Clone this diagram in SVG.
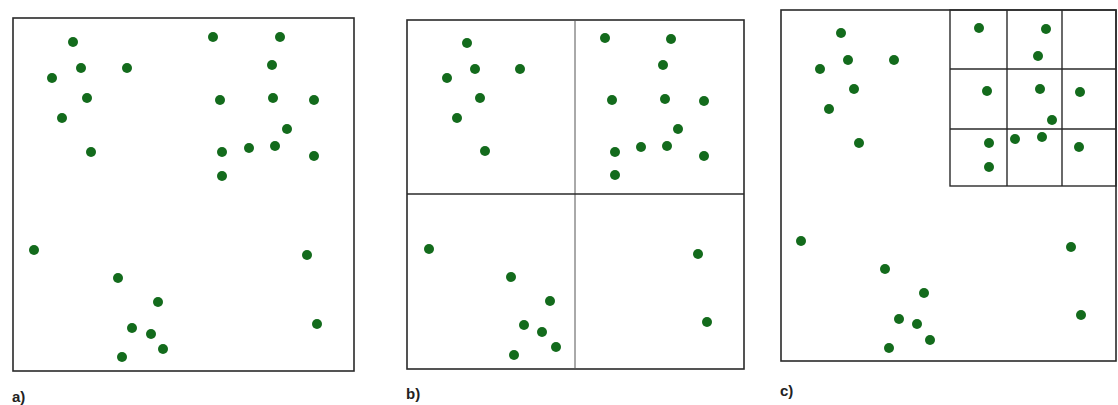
<svg xmlns="http://www.w3.org/2000/svg" width="1118" height="405" viewBox="0 0 1118 405">
<style>
.frame{fill:none;stroke:#2a2a2a;stroke-width:1.6}
.grid{fill:none;stroke:#2a2a2a;stroke-width:1.4}
.thin{fill:none;stroke:#555;stroke-width:1}
.d{fill:#136b1c}
.lbl{font-family:"Liberation Sans",Arial,sans-serif;font-size:15px;font-weight:bold;fill:#222}
</style>
<rect width="1118" height="405" fill="#fff"/>
<g id="panel-a">
<rect class="frame" x="13" y="18" width="341" height="353"/>
<g>
<circle class="d" cx="73" cy="42" r="5"/>
<circle class="d" cx="81" cy="68" r="5"/>
<circle class="d" cx="52" cy="78" r="5"/>
<circle class="d" cx="127" cy="68" r="5"/>
<circle class="d" cx="87" cy="98" r="5"/>
<circle class="d" cx="62" cy="118" r="5"/>
<circle class="d" cx="91" cy="152" r="5"/>
<circle class="d" cx="213" cy="37" r="5"/>
<circle class="d" cx="280" cy="37" r="5"/>
<circle class="d" cx="272" cy="65" r="5"/>
<circle class="d" cx="220" cy="100" r="5"/>
<circle class="d" cx="273" cy="98" r="5"/>
<circle class="d" cx="314" cy="100" r="5"/>
<circle class="d" cx="287" cy="129" r="5"/>
<circle class="d" cx="222" cy="152" r="5"/>
<circle class="d" cx="249" cy="148" r="5"/>
<circle class="d" cx="275" cy="146" r="5"/>
<circle class="d" cx="314" cy="156" r="5"/>
<circle class="d" cx="222" cy="176" r="5"/>
<circle class="d" cx="34" cy="250" r="5"/>
<circle class="d" cx="307" cy="255" r="5"/>
<circle class="d" cx="118" cy="278" r="5"/>
<circle class="d" cx="158" cy="302" r="5"/>
<circle class="d" cx="132" cy="328" r="5"/>
<circle class="d" cx="151" cy="334" r="5"/>
<circle class="d" cx="163" cy="349" r="5"/>
<circle class="d" cx="122" cy="357" r="5"/>
<circle class="d" cx="317" cy="324" r="5"/>
</g>
<text class="lbl" x="12" y="402">a)</text>
</g>
<g id="panel-b">
<rect class="frame" x="407" y="20" width="337" height="349"/>
<line class="thin" x1="575" y1="20" x2="575" y2="369"/>
<line class="grid" x1="407" y1="194" x2="744" y2="194"/>
<g>
<circle class="d" cx="467" cy="43" r="5"/>
<circle class="d" cx="475" cy="69" r="5"/>
<circle class="d" cx="447" cy="78" r="5"/>
<circle class="d" cx="520" cy="69" r="5"/>
<circle class="d" cx="480" cy="98" r="5"/>
<circle class="d" cx="457" cy="118" r="5"/>
<circle class="d" cx="485" cy="151" r="5"/>
<circle class="d" cx="605" cy="38" r="5"/>
<circle class="d" cx="671" cy="39" r="5"/>
<circle class="d" cx="663" cy="65" r="5"/>
<circle class="d" cx="612" cy="100" r="5"/>
<circle class="d" cx="665" cy="99" r="5"/>
<circle class="d" cx="704" cy="101" r="5"/>
<circle class="d" cx="678" cy="129" r="5"/>
<circle class="d" cx="615" cy="152" r="5"/>
<circle class="d" cx="641" cy="147" r="5"/>
<circle class="d" cx="667" cy="146" r="5"/>
<circle class="d" cx="704" cy="156" r="5"/>
<circle class="d" cx="615" cy="175" r="5"/>
<circle class="d" cx="429" cy="249" r="5"/>
<circle class="d" cx="698" cy="254" r="5"/>
<circle class="d" cx="511" cy="277" r="5"/>
<circle class="d" cx="550" cy="301" r="5"/>
<circle class="d" cx="524" cy="325" r="5"/>
<circle class="d" cx="542" cy="332" r="5"/>
<circle class="d" cx="556" cy="347" r="5"/>
<circle class="d" cx="514" cy="355" r="5"/>
<circle class="d" cx="707" cy="322" r="5"/>
</g>
<text class="lbl" x="406" y="399">b)</text>
</g>
<g id="panel-c">
<rect class="frame" x="781" y="10" width="335" height="351"/>
<rect class="grid" x="950" y="10" width="166" height="176"/>
<line class="grid" x1="1007" y1="10" x2="1007" y2="186"/>
<line class="grid" x1="1062" y1="10" x2="1062" y2="186"/>
<line class="grid" x1="950" y1="69" x2="1116" y2="69"/>
<line class="grid" x1="950" y1="129" x2="1116" y2="129"/>
<g>
<circle class="d" cx="841" cy="33" r="5"/>
<circle class="d" cx="848" cy="60" r="5"/>
<circle class="d" cx="820" cy="69" r="5"/>
<circle class="d" cx="894" cy="60" r="5"/>
<circle class="d" cx="854" cy="89" r="5"/>
<circle class="d" cx="829" cy="109" r="5"/>
<circle class="d" cx="859" cy="143" r="5"/>
<circle class="d" cx="979" cy="28" r="5"/>
<circle class="d" cx="1046" cy="29" r="5"/>
<circle class="d" cx="1038" cy="56" r="5"/>
<circle class="d" cx="987" cy="91" r="5"/>
<circle class="d" cx="1040" cy="89" r="5"/>
<circle class="d" cx="1080" cy="92" r="5"/>
<circle class="d" cx="1052" cy="120" r="5"/>
<circle class="d" cx="989" cy="143" r="5"/>
<circle class="d" cx="1015" cy="139" r="5"/>
<circle class="d" cx="1042" cy="137" r="5"/>
<circle class="d" cx="1079" cy="147" r="5"/>
<circle class="d" cx="989" cy="167" r="5"/>
<circle class="d" cx="801" cy="241" r="5"/>
<circle class="d" cx="1071" cy="247" r="5"/>
<circle class="d" cx="885" cy="269" r="5"/>
<circle class="d" cx="924" cy="293" r="5"/>
<circle class="d" cx="899" cy="319" r="5"/>
<circle class="d" cx="917" cy="324" r="5"/>
<circle class="d" cx="930" cy="340" r="5"/>
<circle class="d" cx="889" cy="348" r="5"/>
<circle class="d" cx="1081" cy="315" r="5"/>
</g>
<text class="lbl" x="780" y="396">c)</text>
</g>
</svg>
